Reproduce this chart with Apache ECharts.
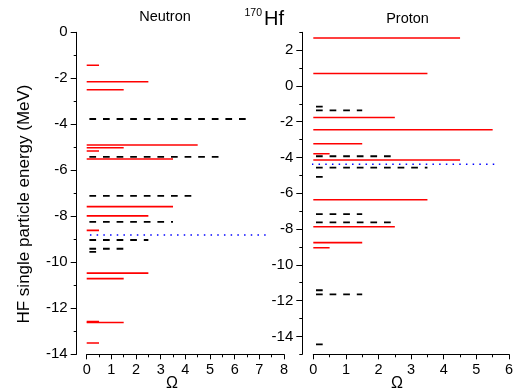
<!DOCTYPE html>
<html>
<head>
<meta charset="utf-8">
<script src="https://cdn.jsdelivr.net/npm/echarts@6/dist/echarts.min.js"></script>
<style>html,body{margin:0;padding:0;background:#fff;}#c{width:516px;height:391px;}</style>
</head>
<body>
<div id="c"></div>
<script>
// Neutron levels (MeV) and Omega
const neutronRedE = [-1.43, -2.15, -2.50, -4.90, -5.02, -5.16, -5.51, -7.58, -7.98, -8.61, -10.47, -10.71, -12.58, -12.62, -13.51];
const neutronRedOmega = [0.5, 2.5, 1.5, 4.5, 1.5, 0.5, 3.5, 3.5, 2.5, 0.5, 2.5, 1.5, 0.5, 1.5, 0.5];
const neutronBlackE = [-3.77, -5.42, -7.11, -8.24, -9.03, -9.41, -9.55];
const neutronBlackOmega = [6.5, 5.5, 4.5, 3.5, 2.5, 1.5, 0.5];
const neutronFermi = -8.81;
const neutronFermiSpan = [-0.14, 7.43];
// Proton levels
const protonRedE = [2.68, 0.70, -1.76, -2.45, -3.23, -3.79, -4.14, -6.36, -7.87, -8.76, -9.04];
const protonRedOmega = [4.5, 3.5, 2.5, 5.5, 1.5, 0.5, 4.5, 3.5, 2.5, 1.5, 0.5];
const protonBlackE = [-1.15, -1.36, -3.93, -4.57, -5.08, -7.16, -7.62, -11.42, -11.65, -14.45];
const protonBlackOmega = [0.5, 1.5, 2.5, 3.5, 0.5, 1.5, 2.5, 0.5, 1.5, 0.5];
const protonFermi = -4.38;
const protonFermiSpan = [-0.25, 5.6];
// Tick labels
const protonMajorTicks = [-14, -12, -10, -8, -6, -4, -2, 0, 2];
const protonMinorTicks = [-15, -13, -11, -9, -7, -5, -3, -1, 1, 3];

const FONT = 'Liberation Sans, Arial, sans-serif';
const chart = echarts.init(document.getElementById('c'), null, {renderer: 'canvas'});

function levelSeries(E, Om, gridIdx, yIdx, dashed) {
  return E.map((e, i) => ({
    type: 'line', xAxisIndex: gridIdx, yAxisIndex: yIdx,
    data: [[0, e], [Om[i], e]],
    showSymbol: false, symbol: 'none', silent: true, animation: false,
    lineStyle: dashed
      ? {color: '#000', width: 1.8, type: [6.7, 6.9], dashOffset: 10.9}
      : {color: '#ff0000', width: 1.6, type: 'solid'}
  }));
}
function fermiSeries(e, span, gridIdx, yIdx) {
  return {
    type: 'line', xAxisIndex: gridIdx, yAxisIndex: yIdx, clip: false,
    data: [[span[0], e], [span[1], e]],
    showSymbol: false, symbol: 'none', silent: true, animation: false,
    lineStyle: {color: '#0000ff', width: 1.5, type: [1.5, 5.2]}
  };
}

const axisLineStyle = {show: true, onZero: false, lineStyle: {color: '#000', width: 1}};
function xAx(gridIndex, max) {
  return {
    type: 'value', gridIndex, min: 0, max, interval: 1, position: 'bottom',
    axisLine: axisLineStyle,
    axisTick: {show: true, inside: false, length: 5, lineStyle: {color: '#000'}},
    minorTick: {show: true, splitNumber: 2, length: 3, lineStyle: {color: '#000'}},
    splitLine: {show: false}, minorSplitLine: {show: false},
    axisLabel: {color: '#000', fontSize: 14.5, fontFamily: FONT, margin: 8}
  };
}

const option = {
  backgroundColor: '#fff',
  animation: false,
  grid: [
    {left: 86.7, top: 32.3, width: 197.3, height: 322},
    {left: 313.3, top: 32.3, width: 198.3, height: 322}
  ],
  xAxis: [xAx(0, 8), xAx(1, 6)],
  yAxis: [
    {
      type: 'value', gridIndex: 0, position: 'left', min: -14, max: 0, interval: 2, offset: 10,
      axisLine: axisLineStyle,
      axisTick: {show: true, length: 6, lineStyle: {color: '#000'}},
      minorTick: {show: true, splitNumber: 2, length: 3, lineStyle: {color: '#000'}},
      splitLine: {show: false}, minorSplitLine: {show: false},
      axisLabel: {color: '#000', fontSize: 15, fontFamily: FONT, margin: 9}
    },
    {
      type: 'value', gridIndex: 1, position: 'left', min: -15, max: 3, interval: 1, offset: 11,
      axisLine: axisLineStyle,
      axisTick: {show: true, length: 6, customValues: protonMajorTicks, lineStyle: {color: '#000'}},
      splitLine: {show: false},
      axisLabel: {color: '#000', fontSize: 15, fontFamily: FONT, margin: 9, customValues: protonMajorTicks}
    },
    {
      type: 'value', gridIndex: 1, position: 'left', min: -15, max: 3, interval: 1, offset: 11,
      axisLine: {show: false, onZero: false},
      axisTick: {show: true, inside: false, length: 3, customValues: protonMinorTicks, lineStyle: {color: '#000'}},
      splitLine: {show: false},
      axisLabel: {show: false}
    }
  ],
  graphic: [
    {type: 'text', x: 24, y: 204, rotation: Math.PI / 2, silent: true,
      style: {text: 'HF single particle energy (MeV)', fontSize: 17, fontFamily: FONT, fill: '#000', align: 'center', verticalAlign: 'middle'}},
    {type: 'text', x: 165, y: 17.2, silent: true,
      style: {text: 'Neutron', fontSize: 14.5, fontFamily: FONT, fill: '#000', align: 'center', verticalAlign: 'middle'}},
    {type: 'text', x: 407.5, y: 19.3, silent: true,
      style: {text: 'Proton', fontSize: 14.5, fontFamily: FONT, fill: '#000', align: 'center', verticalAlign: 'middle'}},
    {type: 'text', x: 244.5, y: 12.7, silent: true,
      style: {text: '170', fontSize: 10.5, fontFamily: FONT, fill: '#000', align: 'left', verticalAlign: 'middle'}},
    {type: 'text', x: 264, y: 19.5, silent: true,
      style: {text: 'Hf', fontSize: 20, fontFamily: FONT, fill: '#000', align: 'left', verticalAlign: 'middle'}},
    {type: 'text', x: 172, y: 376, silent: true,
      style: {text: 'Ω', fontSize: 16, fontFamily: FONT, fill: '#000', align: 'center', verticalAlign: 'top'}},
    {type: 'text', x: 397, y: 376, silent: true,
      style: {text: 'Ω', fontSize: 16, fontFamily: FONT, fill: '#000', align: 'center', verticalAlign: 'top'}}
  ],
  series: [].concat(
    levelSeries(neutronRedE, neutronRedOmega, 0, 0, false),
    levelSeries(neutronBlackE, neutronBlackOmega, 0, 0, true),
    [fermiSeries(neutronFermi, neutronFermiSpan, 0, 0)],
    levelSeries(protonRedE, protonRedOmega, 1, 1, false),
    levelSeries(protonBlackE, protonBlackOmega, 1, 1, true),
    [fermiSeries(protonFermi, protonFermiSpan, 1, 1)]
  )
};
chart.setOption(option);
</script>
</body>
</html>
